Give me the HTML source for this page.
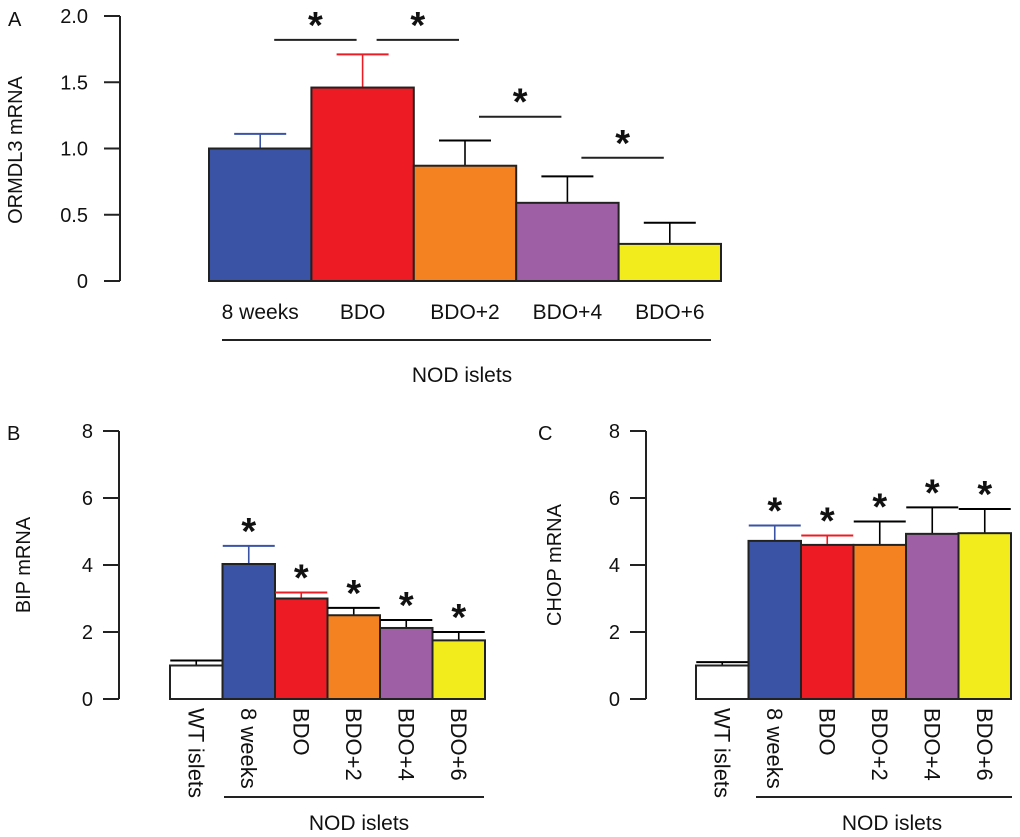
<!DOCTYPE html>
<html><head><meta charset="utf-8"><style>
html,body{margin:0;padding:0;background:#fff;}
svg{display:block;font-family:"Liberation Sans",Arial,sans-serif;}
</style></head><body>
<svg id="chart" width="1020" height="837" viewBox="0 0 1020 837" xmlns="http://www.w3.org/2000/svg"></svg>
<script>
// Panel A data
const catsA = ["8 weeks","BDO","BDO+2","BDO+4","BDO+6"];
const valsA = [1.0, 1.46, 0.87, 0.59, 0.28];
const errA = [1.11, 1.71, 1.06, 0.79, 0.44];
const ticksA = ["0","0.5","1.0","1.5","2.0"];
const tickValsA = [0,0.5,1.0,1.5,2.0];
// Panel B data
const catsB = ["WT islets","8 weeks","BDO","BDO+2","BDO+4","BDO+6"];
const valsB = [1.0, 4.03, 3.0, 2.5, 2.12, 1.75];
const errB = [1.15, 4.57, 3.18, 2.72, 2.36, 2.0];
// Panel C data
const valsC = [1.0, 4.72, 4.6, 4.6, 4.93, 4.95];
const errC = [1.1, 5.18, 4.88, 5.3, 5.72, 5.67];
const ticksBC = ["0","2","4","6","8"];
const tickValsBC = [0,2,4,6,8];
// Significance pairs (panel A)
const sigA = [[0,1,1.82],[1,2,1.82],[2,3,1.24],[3,4,0.93]];

const colsA = ["#3a53a4","#ed1c24","#f58220","#9e5fa5","#f2ec1d"];
const errColA = ["#3a53a4","#ed1c24","#000","#000","#000"];
const colsB = ["#ffffff"].concat(colsA);
const errColB = ["#000"].concat(errColA);

const svg = document.getElementById('chart');
const NS = "http://www.w3.org/2000/svg";
function mk(tag, attrs, name, parent){
  const e = document.createElementNS(NS, tag);
  for (const k in attrs) e.setAttribute(k, attrs[k]);
  
  
  (parent||svg).appendChild(e);
  return e;
}
function txt(x,y,s,name,opts){
  const t = mk('text', Object.assign({x:x,y:y,'font-size':19,fill:'#111'}, opts||{}), name);
  t.textContent = s;
  return t;
}

function panel(cfg){
  const g = mk('g', {}, cfg.name);
  const y = v => cfg.y0 - (v - 0) / cfg.vmax * (cfg.y0 - cfg.yTop);
  const bx = i => cfg.x0 + i * cfg.bw;
  mk('line',{x1:cfg.ax,y1:y(cfg.vmax),x2:cfg.ax,y2:y(0),stroke:'#222','stroke-width':2},'y-axis',g);
  cfg.tickVals.forEach((tv,i)=>{
    mk('line',{x1:cfg.ax-16,y1:y(tv),x2:cfg.ax,y2:y(tv),stroke:'#222','stroke-width':2},'y-tick',g);
    txt(cfg.ax-cfg.tickGap, y(tv)+7, cfg.ticks[i], 'y-tick-label', {'text-anchor':'end','font-size':20});
  });
  cfg.vals.forEach((v,i)=>{
    const cx = bx(i) + cfg.bw/2;
    const ec = cfg.errCol[i];
    mk('line',{x1:cx,y1:y(v),x2:cx,y2:y(cfg.err[i]),stroke:ec,'stroke-width':1.6},'error-bar',g);
    mk('line',{x1:cx-26,y1:y(cfg.err[i]),x2:cx+26,y2:y(cfg.err[i]),stroke:ec,'stroke-width':2},'error-cap',g);
    mk('rect',{x:bx(i),y:y(v),width:cfg.bw,height:y(0)-y(v),fill:cfg.cols[i],stroke:'#222','stroke-width':2},'bar-'+cfg.cats[i].replace(/[^a-zA-Z0-9]+/g,'-').toLowerCase(),g);
    if (cfg.stars && i>0){
      txt(cx, y(cfg.err[i]) - 2, '*', 'significance-star', {'text-anchor':'middle','font-size':38,'font-weight':'bold'});
    }
    if (cfg.rotLabels){
      txt(0,0,cfg.cats[i],'x-label',{'font-size':22,transform:'translate('+(cx-8)+','+(y(0)+9)+') rotate(90)'});
    } else {
      txt(cx, cfg.labY, cfg.cats[i], 'x-label', {'text-anchor':'middle','font-size':21});
    }
  });
}

// Panel A
panel({name:'panel-a',ax:120,tickGap:32,x0:209,bw:102.4,y0:281,yTop:16,vmax:2.0,vals:valsA,err:errA,cats:catsA,cols:colsA,errCol:errColA,ticks:ticksA,tickVals:tickValsA,labY:319,stars:false,rotLabels:false});
(function(){
  const y = v => 281 - v/2.0*265;
  const bx = i => 209 + i*102.4 + 51.2;
  sigA.forEach(s=>{
    const x1 = bx(s[0]) + 14, x2 = bx(s[1]) - 6;
    mk('line',{x1:x1,y1:y(s[2]),x2:x2,y2:y(s[2]),stroke:'#222','stroke-width':2},'significance-line');
    txt((x1+x2)/2, y(s[2]) - 2, '*', 'significance-star', {'text-anchor':'middle','font-size':38,'font-weight':'bold'});
  });
})();
mk('line',{x1:222,y1:340,x2:711,y2:340,stroke:'#222','stroke-width':2},'nod-group-line');
txt(462,382,'NOD islets','group-label-a',{'text-anchor':'middle','font-size':21});
txt(8,26,'A','panel-label-a',{'font-size':20});
txt(0,0,'ORMDL3 mRNA','y-axis-title-a',{'text-anchor':'middle','font-size':20,transform:'translate(22,150) rotate(-90)'});

// Panel B
panel({name:'panel-b',ax:119,tickGap:26,x0:170,bw:52.5,y0:699,yTop:431,vmax:8,vals:valsB,err:errB,cats:catsB,cols:colsB,errCol:errColB,ticks:ticksBC,tickVals:tickValsBC,stars:true,rotLabels:true});
mk('line',{x1:224,y1:797,x2:484,y2:797,stroke:'#222','stroke-width':2},'nod-group-line');
txt(359,830,'NOD islets','group-label-b',{'text-anchor':'middle','font-size':21});
txt(7,440,'B','panel-label-b',{'font-size':20});
txt(0,0,'BIP mRNA','y-axis-title-b',{'text-anchor':'middle','font-size':20,transform:'translate(30,565) rotate(-90)'});

// Panel C
panel({name:'panel-c',ax:646,tickGap:26,x0:696,bw:52.5,y0:699,yTop:431,vmax:8,vals:valsC,err:errC,cats:catsB,cols:colsB,errCol:errColB,ticks:ticksBC,tickVals:tickValsBC,stars:true,rotLabels:true});
mk('line',{x1:756,y1:797,x2:1012,y2:797,stroke:'#222','stroke-width':2},'nod-group-line');
txt(892,830,'NOD islets','group-label-c',{'text-anchor':'middle','font-size':21});
txt(538,440,'C','panel-label-c',{'font-size':20});
txt(0,0,'CHOP mRNA','y-axis-title-c',{'text-anchor':'middle','font-size':20,transform:'translate(561,565) rotate(-90)'});
</script>
</body></html>
